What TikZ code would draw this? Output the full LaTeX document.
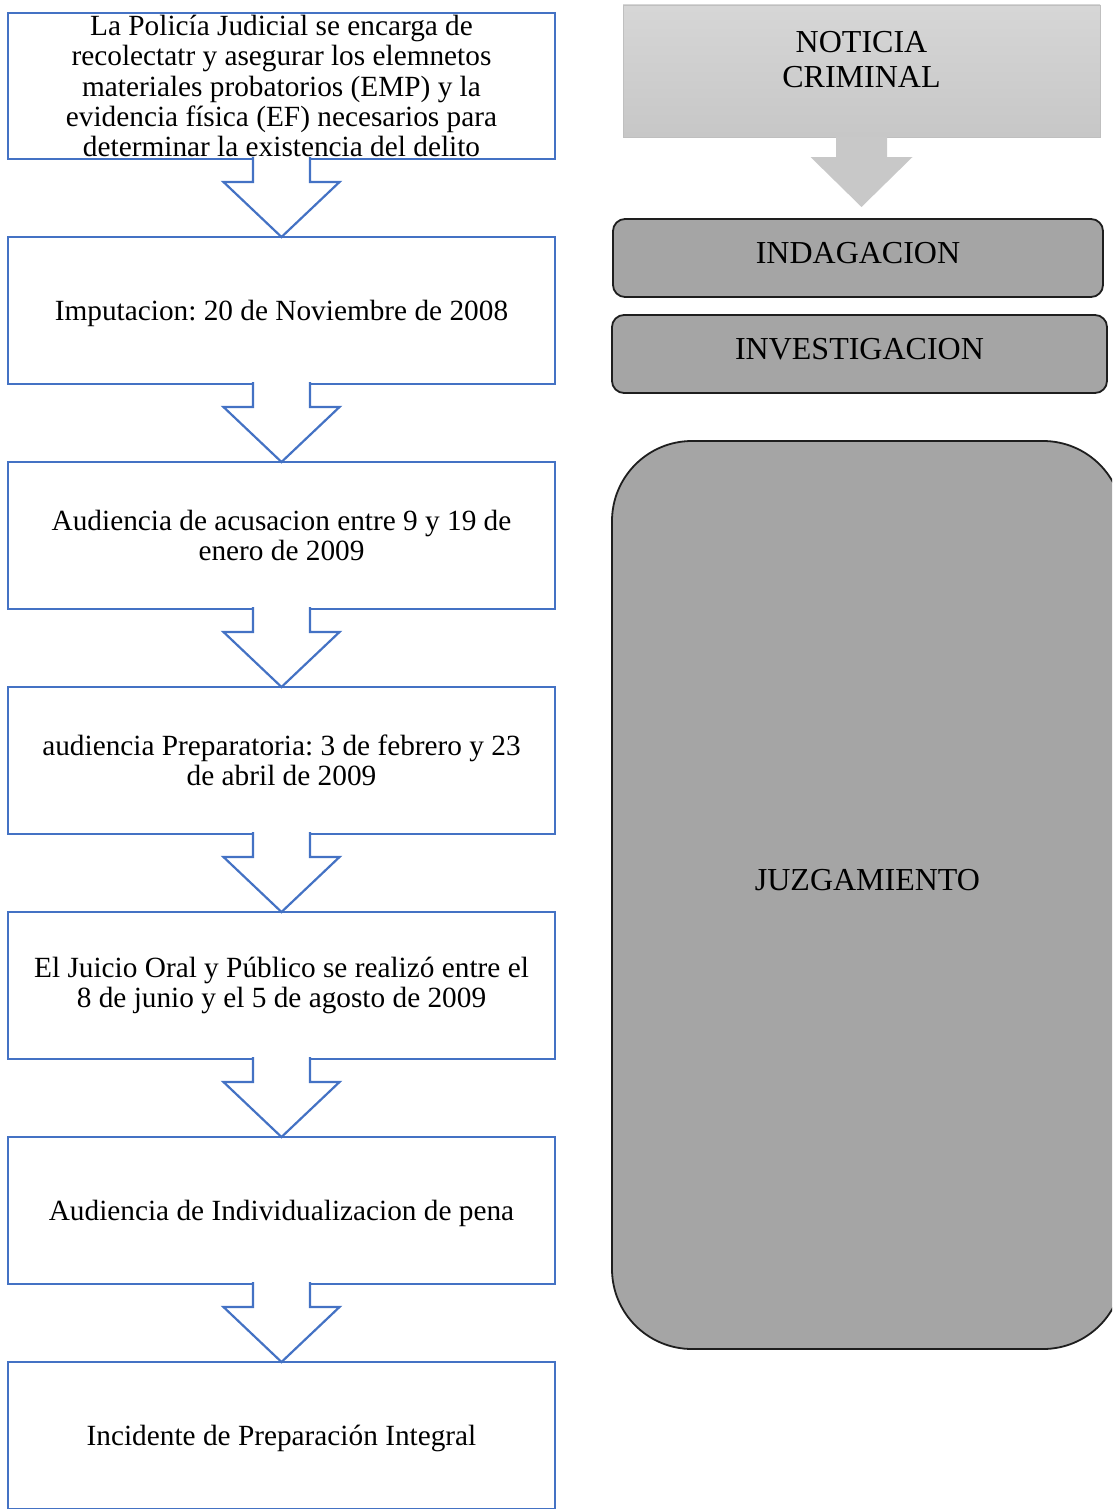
\documentclass[tikz,border=0pt]{standalone}
\usepackage{fontspec}
\setmainfont{Liberation Serif}
\frenchspacing
\usetikzlibrary{positioning,calc}
\definecolor{azul}{HTML}{4472C4}
\definecolor{grisfase}{HTML}{A5A5A5}
\definecolor{grisborde}{HTML}{1E1E1E}
\definecolor{grisflecha}{HTML}{C8C8C8}
% flecha de bloque hueca entre dos pasos
\newcommand{\flechaazul}[2]{%
  \path[flecha] ($(#1.south)+(-28.5,-2)$) -- ++(0,25) -- ++(-29.5,0) -- (#2.north)
    -- ($(#1.south)+(58,23)$) -- ++(-29.5,0) -- ++(0,-25);}
\begin{document}
\begin{tikzpicture}[x=1pt, y=-1pt, node distance=78pt,
  paso/.style = {shape=rectangle, draw=azul, line width=2.2pt, outer sep=0pt,
    minimum width=547pt, minimum height=147pt, align=center, inner sep=0pt,
    font=\fontsize{29.3}{30.3}\selectfont},
  flecha/.style = {fill=white, draw=azul, line width=2.2pt, line join=miter},
  fase/.style = {shape=rectangle, rounded corners=12pt, draw=grisborde, line width=1.8pt,
    fill=grisfase, outer sep=0pt, minimum height=78pt,
    font=\fontsize{32}{35}\selectfont}]
  \useasboundingbox (0,0) rectangle (1112,1509);
  \clip (0,0) rectangle (1112,1509);
  % columna izquierda
  \node (p1) [paso, minimum height=146pt] at (281.5,86) {La Policía Judicial se encarga de\\
    recolectatr y asegurar los elemnetos\\materiales probatorios (EMP) y la\\
    evidencia física (EF) necesarios para\\determinar la existencia del delito};
  \node (p2) [paso, below=of p1, text depth=0pt] {Imputacion: 20 de Noviembre de 2008};
  \node (p3) [paso, below=of p2] {Audiencia de acusacion entre 9 y 19 de\\enero de 2009};
  \node (p4) [paso, below=of p3] {audiencia Preparatoria: 3 de febrero y 23\\de abril de 2009};
  \node (p5) [paso, below=of p4] {El Juicio Oral y Público se realizó entre el\\
    8 de junio y el 5 de agosto de 2009};
  \node (p6) [paso, below=of p5, text depth=0pt] {Audiencia de Individualizacion de pena};
  \node (p7) [paso, below=of p6, text depth=0pt] {Incidente de Preparación Integral};
  \foreach \a/\b in {p1/p2, p2/p3, p3/p4, p4/p5, p5/p6, p6/p7}
    \flechaazul{\a}{\b};
  % columna derecha
  \node (noticia) [shape=rectangle, draw=black!25, line width=0.8pt, outer sep=0pt,
    top color=black!16, bottom color=black!22, minimum width=477pt, minimum height=132pt,
    label={[font=\fontsize{32}{35}\selectfont, align=center, yshift=11pt]center:{NOTICIA\\CRIMINAL}}]
    at (861.5,71) {};
  \coordinate (punta) at ($(noticia.south)+(0,70)$);
  \path[fill=grisflecha] ($(noticia.south)+(-25.5,0)$) -- ++(0,20) -- ++(-25.5,0) -- (punta)
    -- ($(noticia.south)+(51,20)$) -- ++(-25.5,0) -- ++(0,-20) -- cycle;
  \node (indagacion) [fase, minimum width=490pt, text depth=10pt] at (858,258) {INDAGACION};
  \node (investigacion) [fase, minimum width=495pt, text depth=10pt] at (859.5,354) {INVESTIGACION};
  \node (juzgamiento) [fase, rounded corners=80pt, minimum width=511pt, minimum height=908pt,
    text depth=30pt] at (867.5,895) {JUZGAMIENTO};
\end{tikzpicture}
\end{document}
